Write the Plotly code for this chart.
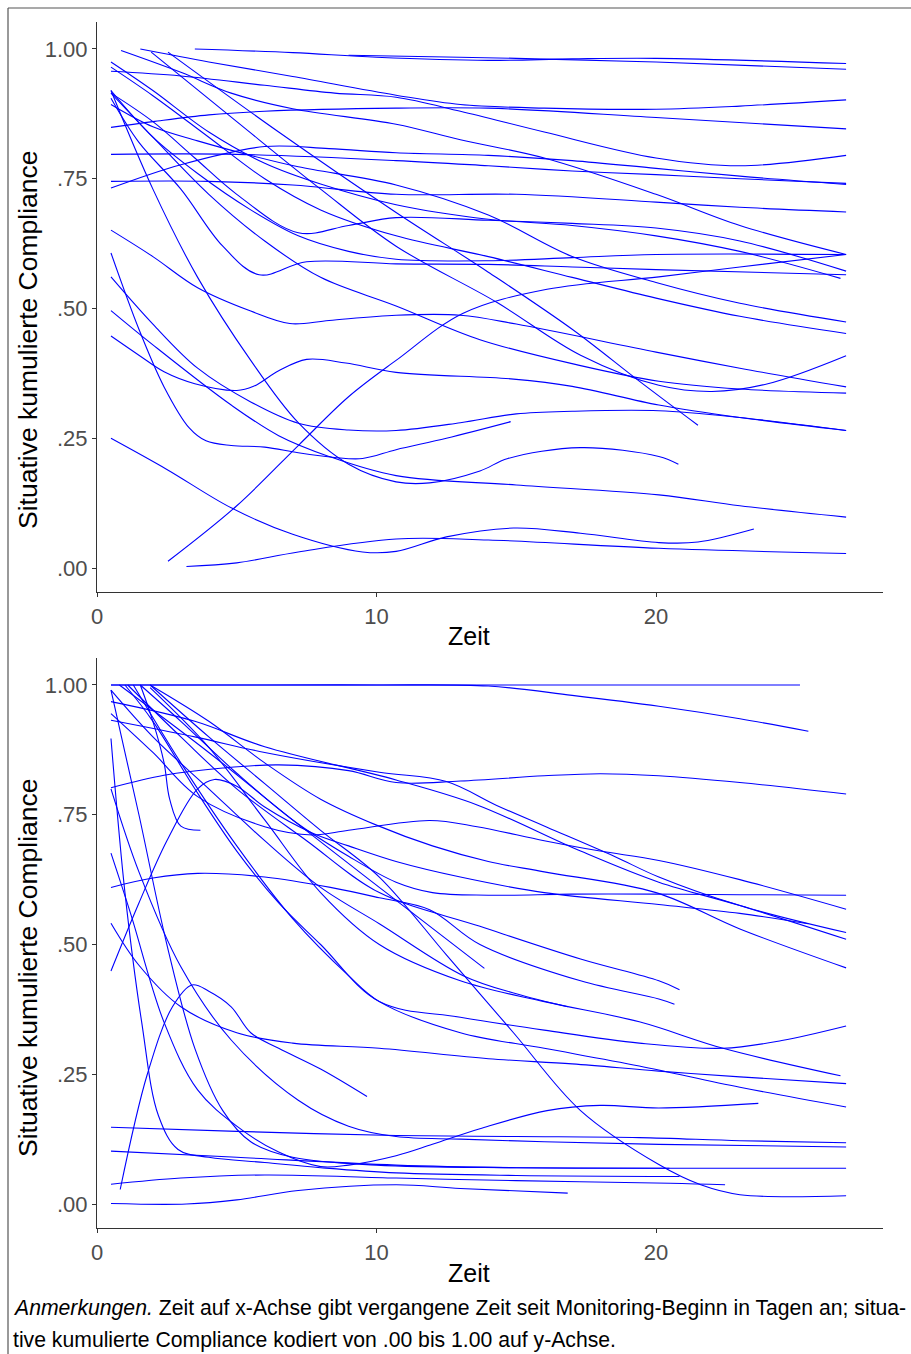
import plotly.graph_objects as go

# ---------------- data: panel 1 (each line: knots of Zeit and compliance) ----------------
P1_X = [
    [3.5, 7, 10, 14, 17, 20, 26.8],
    [9, 12, 15, 20, 26.8],
    [1.55, 4, 7, 10.7, 13, 16, 20, 23, 26.8],
    [0.5, 3, 6, 8.5, 10.7, 13, 16, 20, 23, 26.8],
    [0.5, 2, 4, 6, 10.7, 14, 20, 26.8],
    [0.86, 3, 4.8, 7, 10.7, 13, 16, 20, 23, 26.8],
    [0.5, 5, 10.7, 14, 17, 20, 23, 26.8],
    [0.5, 3, 6, 8.3, 10.7, 14, 17, 20, 23, 26.8],
    [0.5, 4, 7, 10.7, 15, 20, 23, 26.8],
    [0.5, 2, 3.6, 5.5, 7.2, 10.7, 14, 17, 20, 23, 26.8],
    [0.5, 2, 3.5, 5, 7.2, 9, 10.7, 14, 17, 20, 23, 26.8],
    [0.5, 2, 3.6, 5.5, 7.2, 9, 10.7, 14, 17, 20, 26.8],
    [0.5, 1.5, 3, 4.5, 5.8, 7.5, 10.7, 14, 17, 20, 26.8],
    [0.5, 2, 4, 6, 8, 10.7, 14, 17, 20, 23, 26.6],
    [0.5, 2, 4, 6, 8, 10.7, 14, 17, 20, 23, 26.8],
    [2.54, 6.5, 10.7, 14, 17, 19.4, 21.5],
    [1.94, 5, 8, 10.7, 14.3, 17.3, 20.1, 22, 24, 26.8],
    [0.5, 2, 3.6, 5.5, 6.9, 8.3, 10.7, 13, 15, 20, 23, 26.8],
    [0.5, 2, 4, 6, 8, 10.7, 13.7, 17.3, 20.1, 23, 26.8],
    [0.5, 1.5, 2.4, 3.5, 5, 5.6, 6.5, 7.5, 8.9, 10.7, 14.9, 17, 20.1, 23, 26.8],
    [0.5, 2, 3.6, 5.5, 7.2, 9, 10.7, 13, 15, 17, 20.1, 23, 26.8],
    [0.5, 1.5, 2.4, 3.3, 3.9, 4.8, 6, 7.2, 8.5, 9.5, 10.7, 12.5, 14.8],
    [0.5, 2, 4.8, 6.5, 8.3, 10.7, 15, 20.1, 23, 26.8],
    [0.5, 2, 3.6, 5.5, 7.2, 9, 10.7, 11.9, 13.7, 14.7, 17.3, 20.1, 20.8],
    [0.5, 2.5, 4.8, 7, 9.5, 10.7, 12.5, 14.9, 17.3, 20.1, 21.5, 23.5],
    [3.2, 5, 7.2, 10.7, 14, 20.1, 26.8],
    [2.54, 5, 7.2, 9, 10.7, 13.1, 16.1, 20.1, 23, 26.8],
]
P1_Y = [
    [1.0, 0.993, 0.984, 0.978, 0.981, 0.982, 0.972],
    [0.988, 0.985, 0.982, 0.975, 0.961],
    [1.0, 0.975, 0.947, 0.911, 0.893, 0.886, 0.884, 0.89, 0.902],
    [0.957, 0.948, 0.93, 0.915, 0.907, 0.88, 0.84, 0.79, 0.775, 0.795],
    [0.849, 0.86, 0.873, 0.88, 0.886, 0.886, 0.868, 0.846],
    [0.997, 0.955, 0.915, 0.885, 0.855, 0.825, 0.79, 0.72, 0.66, 0.604],
    [0.797, 0.797, 0.785, 0.775, 0.765, 0.758, 0.75, 0.741],
    [0.732, 0.777, 0.812, 0.808, 0.80, 0.795, 0.785, 0.77, 0.755, 0.739],
    [0.745, 0.745, 0.738, 0.72, 0.72, 0.705, 0.695, 0.686],
    [0.893, 0.85, 0.823, 0.795, 0.773, 0.738, 0.68, 0.6, 0.55, 0.51, 0.474],
    [0.915, 0.86, 0.79, 0.72, 0.646, 0.66, 0.675, 0.67, 0.664, 0.655, 0.63, 0.572],
    [0.92, 0.83, 0.76, 0.69, 0.64, 0.61, 0.595, 0.592, 0.598, 0.604, 0.604],
    [0.905, 0.82, 0.73, 0.62, 0.565, 0.59, 0.586, 0.585, 0.58, 0.575, 0.565],
    [0.975, 0.92, 0.84, 0.78, 0.74, 0.70, 0.672, 0.66, 0.64, 0.61, 0.558],
    [0.965, 0.91, 0.83, 0.75, 0.69, 0.64, 0.6, 0.56, 0.52, 0.485, 0.452],
    [0.994, 0.84, 0.685, 0.57, 0.46, 0.36, 0.275],
    [0.994, 0.86, 0.73, 0.62, 0.512, 0.41, 0.352, 0.34, 0.355, 0.409],
    [0.651, 0.6, 0.54, 0.495, 0.471, 0.477, 0.487, 0.487, 0.47, 0.416, 0.385, 0.349],
    [0.915, 0.83, 0.72, 0.63, 0.56, 0.505, 0.44, 0.39, 0.36, 0.345, 0.337],
    [0.447, 0.41, 0.378, 0.355, 0.342, 0.35, 0.38, 0.402, 0.395, 0.377, 0.364, 0.35, 0.314, 0.29, 0.265],
    [0.561, 0.47, 0.385, 0.32, 0.279, 0.266, 0.265, 0.28, 0.297, 0.302, 0.303, 0.29, 0.265],
    [0.607, 0.46, 0.349, 0.27, 0.245, 0.236, 0.233, 0.222, 0.213, 0.211, 0.228, 0.25, 0.282],
    [0.496, 0.43, 0.314, 0.255, 0.215, 0.178, 0.16, 0.141, 0.12, 0.098],
    [0.92, 0.73, 0.56, 0.4, 0.28, 0.2, 0.166, 0.164, 0.187, 0.211, 0.232, 0.215, 0.2],
    [0.25, 0.19, 0.116, 0.065, 0.031, 0.032, 0.06, 0.077, 0.067, 0.049, 0.05, 0.075],
    [0.003, 0.01, 0.031, 0.056, 0.054, 0.038, 0.028],
    [0.013, 0.12, 0.236, 0.33, 0.40, 0.491, 0.537, 0.561, 0.58, 0.604],
]

# ---------------- data: panel 2 ----------------
P2_X = [
    [0.5, 6, 12, 18, 25.15],
    [0.5, 6, 10, 14, 17, 20.1, 23, 25.45],
    [0.5, 2.4, 4.5, 6.5, 9, 10.7, 13, 16, 18, 20.1, 23, 26.8],
    [0.5, 3.5, 6, 10.7, 13.6, 17.3, 20.1, 23, 26.8],
    [0.5, 3.5, 6, 10.1, 12.5, 14.3, 16.1, 18.5, 20.1, 23, 26.8],
    [0.5, 2, 3.6, 6, 7.7, 9, 11.9, 13.6, 16, 18, 20.1, 23, 26.8],
    [0.5, 1.5, 2.5, 3.6, 4.2, 5, 6, 7.7, 9, 10.7, 13, 16, 20.1, 23, 25.45],
    [1.55, 3, 5, 7, 9, 10.7, 12, 14, 17, 20, 23, 26.8],
    [1.9, 4, 6, 8, 10, 12, 14, 16, 20, 23, 26.8],
    [0.8, 4, 7, 10.1, 13.86],
    [0.5, 2, 4, 6, 8, 10.1, 13.1, 15, 16.84],
    [1.1, 3, 5, 7.5, 10.1, 13.7, 17.3, 20.1, 20.84],
    [0.5, 2, 3.6, 6, 8.35, 10.1, 11.9, 13.7, 17.3, 20.1, 20.66],
    [1.0, 2, 3.5, 5, 6.5, 8, 10.1, 13, 16, 19.4, 22.4, 24.5, 26.8],
    [1.9, 4, 6, 8, 10.1, 13, 16, 19.4, 22.4, 26.6],
    [0.5, 1.5, 3, 5, 7, 10.1, 14, 17, 20.1, 23, 26.8],
    [1.3, 3, 5, 7, 9, 10.1, 13, 16, 19.4, 23, 26.8],
    [1.9, 4, 6, 8, 10.1, 12.5, 14.9, 17.3, 20.1, 21.6, 23, 26.8],
    [0.5, 1.2, 2.4, 3.6, 5, 6.5, 8, 9, 10.7, 12, 13.7, 16.1, 18, 20.1, 23.66],
    [0.5, 5, 10.7, 15, 19.4, 23, 26.8],
    [0.5, 5, 10.7, 15, 20, 26.8],
    [0.5, 1.5, 3, 4.8, 7.2, 9, 10.7, 13, 16, 20.1, 26.8],
    [0.5, 1.0, 1.6, 2.2, 2.9, 4, 6, 8, 10.7, 15, 20.84],
    [0.5, 1.5, 2.5, 3.5, 4.5, 5.5, 7, 10, 15, 20.48],
    [0.5, 3, 6, 10.7, 15, 20.5, 22.47],
    [0.5, 3.2, 5, 7.2, 10.7, 13, 16.84],
    [0.83, 1.8, 2.7, 3.4, 4, 4.8, 5.5, 6.5, 8, 9.66],
    [1.55, 2.0, 2.4, 2.6, 3.0, 3.7],
]
P2_Y = [
    [1.0, 1.0, 1.0, 1.0, 1.0],
    [1.0, 1.0, 1.0, 0.998, 0.98, 0.959, 0.935, 0.911],
    [0.802, 0.826, 0.84, 0.846, 0.835, 0.812, 0.815, 0.825, 0.829, 0.825, 0.812, 0.79],
    [0.968, 0.93, 0.881, 0.817, 0.769, 0.68, 0.62, 0.575, 0.51],
    [0.932, 0.9, 0.87, 0.832, 0.814, 0.768, 0.726, 0.67, 0.63, 0.575, 0.523],
    [0.945, 0.87, 0.785, 0.727, 0.711, 0.72, 0.739, 0.727, 0.70, 0.68, 0.662, 0.625, 0.568],
    [0.449, 0.58, 0.7, 0.8, 0.818, 0.805, 0.765, 0.715, 0.69, 0.66, 0.63, 0.6, 0.577, 0.56, 0.54],
    [1.0, 0.93, 0.83, 0.74, 0.67, 0.62, 0.6, 0.595, 0.597, 0.597, 0.596, 0.595],
    [1.0, 0.93, 0.85, 0.78, 0.73, 0.69, 0.66, 0.64, 0.6, 0.53, 0.455],
    [1.0, 0.87, 0.74, 0.61, 0.454],
    [0.99, 0.9, 0.8, 0.7, 0.61, 0.54, 0.44, 0.405, 0.38],
    [1.0, 0.9, 0.8, 0.7, 0.6, 0.535, 0.472, 0.43, 0.413],
    [0.61, 0.628, 0.637, 0.63, 0.61, 0.59, 0.567, 0.5, 0.43, 0.395, 0.385],
    [1.0, 0.93, 0.8, 0.68, 0.58, 0.5, 0.39, 0.36, 0.335, 0.31, 0.3, 0.315, 0.343],
    [0.995, 0.88, 0.74, 0.6, 0.5, 0.43, 0.39, 0.351, 0.3, 0.247],
    [0.541, 0.46, 0.38, 0.33, 0.31, 0.3, 0.28, 0.27, 0.256, 0.245, 0.232],
    [1.0, 0.85, 0.69, 0.55, 0.44, 0.39, 0.33, 0.3, 0.266, 0.225, 0.187],
    [1.0, 0.9, 0.81, 0.72, 0.63, 0.48, 0.33, 0.18, 0.076, 0.037, 0.018, 0.016],
    [0.676, 0.56, 0.35, 0.22, 0.15, 0.1, 0.072, 0.075, 0.093, 0.115, 0.145, 0.18, 0.19, 0.185, 0.194],
    [0.148, 0.14, 0.132, 0.13, 0.128, 0.122, 0.118],
    [0.102, 0.09, 0.075, 0.07, 0.069, 0.069],
    [0.8, 0.64, 0.457, 0.316, 0.2, 0.15, 0.13, 0.125, 0.12, 0.115, 0.11],
    [0.897, 0.6, 0.35, 0.17, 0.105, 0.09, 0.08, 0.07, 0.06, 0.055, 0.053],
    [0.99, 0.75, 0.5, 0.3, 0.18, 0.12, 0.09, 0.075, 0.07, 0.069],
    [0.038, 0.05, 0.056, 0.05, 0.045, 0.04, 0.037],
    [0.001, 0.0, 0.008, 0.026, 0.037, 0.03, 0.021],
    [0.028, 0.25, 0.38, 0.422, 0.41, 0.38, 0.33, 0.3, 0.26, 0.207],
    [1.0, 0.93, 0.85, 0.78, 0.728, 0.72],
]

X_TICKS = [0, 10, 20]
X_TICK_LABELS = ["0", "10", "20"]
Y_TICKS = [0, 0.25, 0.5, 0.75, 1.0]
Y_TICK_LABELS = [".00", ".25", ".50", ".75", "1.00"]
X_TITLE = "Zeit"
Y_TITLE = "Situative kumulierte Compliance"
NOTE_1 = "<i>Anmerkungen.</i> Zeit auf x-Achse gibt vergangene Zeit seit Monitoring-Beginn in Tagen an; situa-"
NOTE_2 = "tive kumulierte Compliance kodiert von .00 bis 1.00 auf y-Achse."

W, H = 911, 1354
FONT = "Liberation Sans, Arial, Helvetica, sans-serif"
LINE_COLOR = "#0000ff"

fig = go.Figure()

for xs_list, ys_list, xa, ya in [(P1_X, P1_Y, "x", "y"), (P2_X, P2_Y, "x2", "y2")]:
    for xs, ys in zip(xs_list, ys_list):
        fig.add_trace(go.Scatter(
            x=xs, y=ys, mode="lines", xaxis=xa, yaxis=ya,
            line=dict(color=LINE_COLOR, width=1.1, shape="spline", smoothing=1.0),
            hoverinfo="skip", showlegend=False,
        ))

def px_x(p):
    return p / W

def px_y(p):
    return 1 - p / H

x_dom = [px_x(97), px_x(883)]
dom1 = [px_y(592), px_y(22)]
dom2 = [px_y(1228), px_y(658)]

xrange_ = [0, 28.12]
yrange_ = [-0.0462, 1.052]

axis_common = dict(
    showline=True, linecolor="#333333", linewidth=1.2,
    ticks="outside", ticklen=4, tickwidth=1, tickcolor="#333333",
    showgrid=False, zeroline=False, automargin=False,
    tickfont=dict(family=FONT, size=22, color="#4d4d4d"),
)

fig.update_layout(
    width=W, height=H, autosize=False,
    margin=dict(l=0, r=0, t=0, b=0, pad=0),
    paper_bgcolor="white", plot_bgcolor="white",
    showlegend=False,
    xaxis=dict(domain=x_dom, range=xrange_, tickvals=X_TICKS, ticktext=X_TICK_LABELS,
               anchor="y", **axis_common),
    yaxis=dict(domain=dom1, range=yrange_, tickvals=Y_TICKS, ticktext=Y_TICK_LABELS,
               anchor="x", **axis_common),
    xaxis2=dict(domain=x_dom, range=xrange_, tickvals=X_TICKS, ticktext=X_TICK_LABELS,
                anchor="y2", **axis_common),
    yaxis2=dict(domain=dom2, range=yrange_, tickvals=Y_TICKS, ticktext=Y_TICK_LABELS,
                anchor="x2", **axis_common),
)

annotations = []
for cy in (340, 968):
    annotations.append(dict(
        x=px_x(28), y=px_y(cy), xref="paper", yref="paper", text=Y_TITLE,
        textangle=-90, showarrow=False, xanchor="center", yanchor="middle",
        font=dict(family=FONT, size=26.5, color="black"),
    ))
for cy in (636, 1273):
    annotations.append(dict(
        x=px_x(469), y=px_y(cy), xref="paper", yref="paper", text=X_TITLE,
        showarrow=False, xanchor="center", yanchor="middle",
        font=dict(family=FONT, size=25, color="black"),
    ))
annotations.append(dict(
    x=px_x(11), y=px_y(1308), xref="paper", yref="paper", text=NOTE_1,
    showarrow=False, xanchor="left", yanchor="middle",
    font=dict(family=FONT, size=21.2, color="black"),
))
annotations.append(dict(
    x=px_x(11), y=px_y(1340), xref="paper", yref="paper", text=NOTE_2,
    showarrow=False, xanchor="left", yanchor="middle",
    font=dict(family=FONT, size=21.2, color="black"),
))
fig.update_layout(annotations=annotations)

# outer frame lines (top and left)
fig.add_shape(type="line", xref="paper", yref="paper",
              x0=px_x(8), x1=1, y0=px_y(8), y1=px_y(8),
              line=dict(color="#555555", width=1.2))
fig.add_shape(type="line", xref="paper", yref="paper",
              x0=px_x(8), x1=px_x(8), y0=px_y(8), y1=0,
              line=dict(color="#555555", width=1.2))

fig.write_html(
    "out.html",
    config={"displayModeBar": False, "responsive": False},
    post_script="document.body.style.margin='0';document.body.style.overflow='hidden';",
)
